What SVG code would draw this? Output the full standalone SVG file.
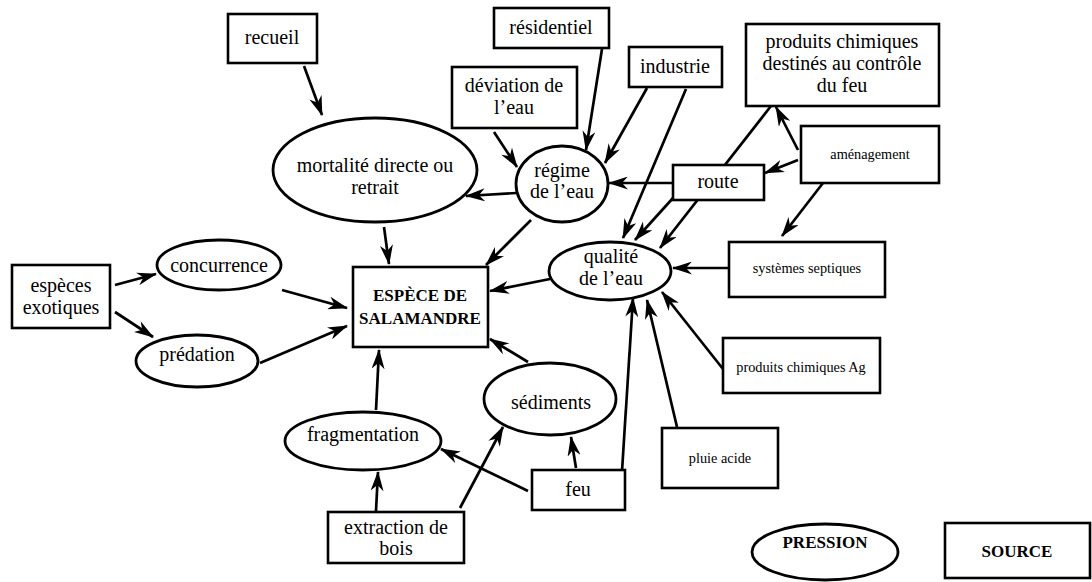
<svg xmlns="http://www.w3.org/2000/svg" width="1092" height="582" viewBox="0 0 1092 582">
  <style>
    .box { fill: #fff; stroke: #000; stroke-width: 2.6; }
    .oval { fill: #fff; stroke: #000; stroke-width: 2.8; }
    .lbl { font-size: 20px; fill: #000; text-anchor: middle; }
    .sm { font-size: 14.3px; }
    .caps { font-weight: bold; font-size: 17px; }
    .edge { stroke: #000; stroke-width: 2.7; fill: none; marker-end: url(#arrow); }
  </style>
  <defs>
    <marker id="arrow" viewBox="0 0 20 13" markerWidth="20" markerHeight="13" refX="19" refY="6.5" orient="auto" markerUnits="userSpaceOnUse">
      <path d="M0,0 L20,6.5 L0,13 L6,6.5 Z" fill="#000"/>
    </marker>
  </defs>
  <rect width="1092" height="582" fill="#fff"/>

  <!-- connectors -->
  <g id="connectors">
    <line class="edge" x1="304" y1="66" x2="322" y2="115"/>
    <line class="edge" x1="494" y1="132" x2="517" y2="167"/>
    <line class="edge" x1="602" y1="49" x2="586" y2="150"/>
    <line class="edge" x1="647" y1="88" x2="605" y2="163"/>
    <line class="edge" x1="686" y1="89" x2="623" y2="238"/>
    <line class="edge" x1="771" y1="106" x2="660" y2="248"/>
    <line class="edge" x1="673" y1="198" x2="635" y2="240"/>
    <line class="edge" x1="673" y1="183" x2="609" y2="183"/>
    <line class="edge" x1="798" y1="150" x2="776" y2="107"/>
    <line class="edge" x1="798" y1="160" x2="765" y2="173"/>
    <line class="edge" x1="823" y1="183" x2="782" y2="236"/>
    <line class="edge" x1="729" y1="268" x2="673" y2="268"/>
    <line class="edge" x1="723" y1="369" x2="662" y2="292"/>
    <line class="edge" x1="677" y1="427" x2="647" y2="300"/>
    <line class="edge" x1="622" y1="471" x2="633" y2="298"/>
    <line class="edge" x1="576" y1="468" x2="571" y2="437"/>
    <line class="edge" x1="528" y1="491" x2="441" y2="449"/>
    <line class="edge" x1="460" y1="508" x2="503" y2="427"/>
    <line class="edge" x1="376" y1="511" x2="378" y2="472"/>
    <line class="edge" x1="376" y1="410" x2="379" y2="350"/>
    <line class="edge" x1="528" y1="362" x2="490" y2="339"/>
    <line class="edge" x1="550" y1="279" x2="490" y2="291"/>
    <line class="edge" x1="531" y1="220" x2="486" y2="265"/>
    <line class="edge" x1="384" y1="227" x2="389" y2="264"/>
    <line class="edge" x1="516" y1="193" x2="466" y2="196"/>
    <line class="edge" x1="282" y1="290" x2="347" y2="308"/>
    <line class="edge" x1="260" y1="363" x2="347" y2="326"/>
    <line class="edge" x1="115" y1="285" x2="156" y2="274"/>
    <line class="edge" x1="115" y1="312" x2="153" y2="337"/>
  </g>

  <g font-family="Liberation Serif, Times New Roman, serif">
  <!-- sources -->
  <g id="recueil">
    <rect class="box" x="228" y="14" width="89" height="49"/>
    <text class="lbl" x="272" y="44">recueil</text>
  </g>
  <g id="residentiel">
    <rect class="box" x="494" y="8" width="115" height="40"/>
    <text class="lbl" x="551" y="34">résidentiel</text>
  </g>
  <g id="industrie">
    <rect class="box" x="629" y="47" width="93" height="40"/>
    <text class="lbl" x="675" y="73">industrie</text>
  </g>
  <g id="deviation">
    <rect class="box" x="452" y="67" width="125" height="61"/>
    <text class="lbl" x="514" y="92">déviation de</text>
    <text class="lbl" x="514" y="114">l’eau</text>
  </g>
  <g id="produits-feu">
    <rect class="box" x="746" y="24" width="193" height="82"/>
    <text class="lbl" x="842" y="48">produits chimiques</text>
    <text class="lbl" x="842" y="70">destinés au contrôle</text>
    <text class="lbl" x="842" y="92">du feu</text>
  </g>
  <g id="amenagement">
    <rect class="box" x="801" y="126" width="138" height="57"/>
    <text class="lbl sm" x="870" y="159">aménagement</text>
  </g>
  <g id="route">
    <rect class="box" x="673" y="165" width="91" height="35"/>
    <text class="lbl" x="718" y="188">route</text>
  </g>
  <g id="septiques">
    <rect class="box" x="729" y="242" width="156" height="55"/>
    <text class="lbl sm" x="807" y="273">systèmes septiques</text>
  </g>
  <g id="produits-ag">
    <rect class="box" x="723" y="338" width="157" height="55"/>
    <text class="lbl sm" x="801" y="372">produits chimiques Ag</text>
  </g>
  <g id="pluie">
    <rect class="box" x="662" y="428" width="116" height="60"/>
    <text class="lbl sm" x="720" y="463">pluie acide</text>
  </g>
  <g id="feu">
    <rect class="box" x="532" y="470" width="93" height="40"/>
    <text class="lbl" x="578" y="496">feu</text>
  </g>
  <g id="extraction">
    <rect class="box" x="328" y="512" width="136" height="51"/>
    <text class="lbl" x="396" y="534">extraction de</text>
    <text class="lbl" x="396" y="555">bois</text>
  </g>
  <g id="exotiques">
    <rect class="box" x="12" y="265" width="98" height="63"/>
    <text class="lbl" x="61" y="292">espèces</text>
    <text class="lbl" x="61" y="314">exotiques</text>
  </g>

  <!-- pressures -->
  <g id="mortalite">
    <ellipse class="oval" cx="375" cy="170" rx="102" ry="52"/>
    <text class="lbl" x="375" y="172">mortalité directe ou</text>
    <text class="lbl" x="375" y="194">retrait</text>
  </g>
  <g id="regime">
    <ellipse class="oval" cx="562" cy="184" rx="46" ry="38"/>
    <text class="lbl" x="562" y="177">régime</text>
    <text class="lbl" x="562" y="198">de l’eau</text>
  </g>
  <g id="qualite">
    <ellipse class="oval" cx="610" cy="271" rx="61" ry="29"/>
    <text class="lbl" x="611" y="263">qualité</text>
    <text class="lbl" x="611" y="285">de l’eau</text>
  </g>
  <g id="sediments">
    <ellipse class="oval" cx="550" cy="399" rx="66" ry="36"/>
    <text class="lbl" x="551" y="409">sédiments</text>
  </g>
  <g id="fragmentation">
    <ellipse class="oval" cx="363" cy="441" rx="78" ry="29"/>
    <text class="lbl" x="363" y="441">fragmentation</text>
  </g>
  <g id="concurrence">
    <ellipse class="oval" cx="219" cy="265" rx="62" ry="25"/>
    <text class="lbl" x="219" y="272">concurrence</text>
  </g>
  <g id="predation">
    <ellipse class="oval" cx="197" cy="361" rx="61" ry="26"/>
    <text class="lbl" x="197" y="361">prédation</text>
  </g>

  <!-- species -->
  <g id="espece">
    <rect class="box" x="353" y="267" width="135" height="80"/>
    <text class="lbl caps" x="420" y="301">ESPÈCE DE</text>
    <text class="lbl caps" x="420" y="324">SALAMANDRE</text>
  </g>

  <!-- legend -->
  <g id="legend-pression">
    <ellipse class="oval" cx="825" cy="552" rx="73" ry="28"/>
    <text class="lbl caps" x="825" y="548">PRESSION</text>
  </g>
  <g id="legend-source">
    <rect class="box" x="945" y="523" width="145" height="55"/>
    <text class="lbl caps" x="1017" y="557">SOURCE</text>
  </g>
  </g>
</svg>
